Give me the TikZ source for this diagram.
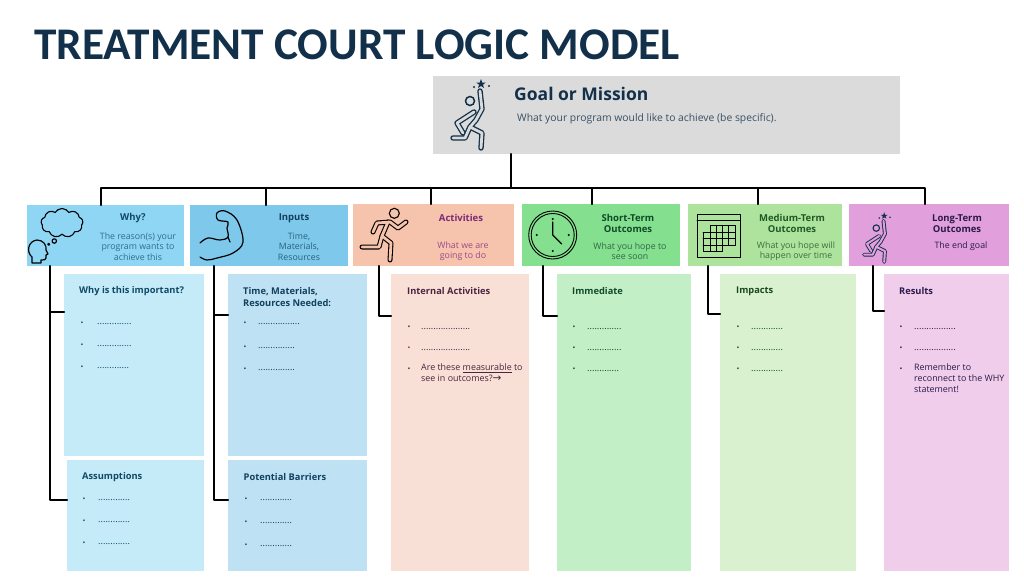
\documentclass[tikz,border=0pt]{standalone}
\usepackage{fontspec}
\setmainfont{Open Sans}
\newfontfamily\titlefont{Carlito}
\newfontfamily\symfont{DejaVu Sans}
\usetikzlibrary{shapes.symbols}
\definecolor{navy}{HTML}{12304A}
\definecolor{goalgray}{HTML}{DBDBDB}
\definecolor{whyhead}{HTML}{8FD6F5}
\definecolor{inputhead}{HTML}{7EC8EC}
\definecolor{acthead}{HTML}{F6C3AC}
\definecolor{shorthead}{HTML}{84E08E}
\definecolor{medhead}{HTML}{AEE39E}
\definecolor{longhead}{HTML}{E19FDB}
\definecolor{whypanel}{HTML}{C6EBF8}
\definecolor{inputpanel}{HTML}{BEE2F4}
\definecolor{actpanel}{HTML}{F9E0D6}
\definecolor{shortpanel}{HTML}{C2EFC5}
\definecolor{medpanel}{HTML}{D9F1CF}
\definecolor{longpanel}{HTML}{F0CEEB}
\definecolor{whyink}{HTML}{0E4A66}
\definecolor{whybody}{HTML}{2E6E8A}
\definecolor{inputink}{HTML}{12405C}
\definecolor{actink}{HTML}{7A2A78}
\definecolor{actbody}{HTML}{9A4A90}
\definecolor{actdark}{HTML}{4A2440}
\definecolor{shortink}{HTML}{0F4A2A}
\definecolor{medink}{HTML}{1F5A24}
\definecolor{medbody}{HTML}{3C6E3C}
\definecolor{longink}{HTML}{2A1A4A}
\tikzset{
  box/.style={anchor=north west, inner sep=0pt, outer sep=0pt},
  link/.style={line width=2.1pt, black, line cap=round, line join=round},
  headtitle/.style={align=center, inner sep=0pt, font=\fontsize{9.5}{11.7}\selectfont\bfseries},
  headbody/.style={align=center, inner sep=0pt, font=\fontsize{8.8}{10.4}\selectfont},
  paneltitle/.style={anchor=west, align=left, inner sep=0pt, font=\fontsize{9.3}{11.2}\selectfont\bfseries},
  dotmark/.style={anchor=center, inner sep=0pt, yshift=-1.5pt, font=\fontsize{7.5}{7.5}\selectfont},
  dots/.style={anchor=west, inner sep=0pt, yshift=-1.5pt, font=\fontsize{9.2}{9}\selectfont},
  itemtext/.style={anchor=north west, align=left, inner sep=0pt, font=\fontsize{8.9}{10.6}\selectfont},
  icon/.style={line width=1.2pt, black, line cap=round, line join=round},
  tube/.style={line width=#1, line cap=round, line join=round},
}
\newcommand{\jumperfig}[4]{
  \begin{scope}[shift={(#1,#2)}, scale=#3]
    \foreach \w/\c in {5.4*#3/navy, 2.8*#3/#4}{
      \draw[tube=\w pt, \c] (9,-21) -- (11,-3) -- (5,8) -- (-1,15) -- (11,21) -- (10,36);
      \draw[tube=\w pt, \c] (3,0) -- (-14,11) -- (-8,21);
      \draw[tube=\w pt, \c] (-1,15) -- (-6,26) -- (-18,26);
    }
    \draw[navy, line width=1.5*#3 pt] (-1,-11) circle (4.5);
    \fill[navy] (10,-33) -- (11.2,-29.5) -- (14.8,-29.5) -- (11.9,-27.3) -- (13,-24) -- (10,-26) -- (7,-24) -- (8.1,-27.3) -- (5.2,-29.5) -- (8.8,-29.5) -- cycle;
    \fill[navy] (3,-25) circle (1.2);
    \fill[navy] (18,-26) circle (1.2);
  \end{scope}
}
\begin{document}
\begin{tikzpicture}[x=1pt,y=-1pt]
\useasboundingbox (0,0) rectangle (1024,576);
\node[anchor=west, inner sep=0pt, text=navy, font=\fontsize{45.3}{45}\selectfont\titlefont\bfseries] (title) at (34,44.5) {TREATMENT COURT LOGIC MODEL};

\node[box, fill=goalgray, minimum width=467pt, minimum height=78pt] (goal) at (433,76) {};
\node[anchor=west, inner sep=0pt, text=navy, font=\fontsize{17.5}{18}\selectfont\bfseries] (goaltitle) at (514,94) {Goal or Mission};
\node[anchor=west, inner sep=0pt, text=navy!85, font=\fontsize{10.35}{12}\selectfont] (goaltext) at (517,118.5) {What your program would like to achieve (be specific).};
\jumperfig{471}{112}{1}{goalgray}

\node[box, fill=whyhead, minimum width=157pt, minimum height=61pt] (why) at (27,205) {};
\node[box, fill=inputhead, minimum width=158pt, minimum height=61pt] (inputs) at (190,205) {};
\node[box, fill=acthead, minimum width=161pt, minimum height=62pt] (act) at (353,204) {};
\node[box, fill=shorthead, minimum width=158pt, minimum height=62pt] (short) at (522,204) {};
\node[box, fill=medhead, minimum width=154pt, minimum height=62pt] (med) at (688,204) {};
\node[box, fill=longhead, minimum width=160pt, minimum height=62pt] (long) at (849,204) {};

\node[box, fill=whypanel, minimum width=140pt, minimum height=182pt] (whypanel) at (64,274) {};
\node[box, fill=whypanel, minimum width=137pt, minimum height=111pt] (assume) at (67,460) {};
\node[box, fill=inputpanel, minimum width=139pt, minimum height=182pt] (needs) at (228,274) {};
\node[box, fill=inputpanel, minimum width=139pt, minimum height=111pt] (barriers) at (228,460) {};
\node[box, fill=actpanel, minimum width=138pt, minimum height=297pt] (internal) at (391,274) {};
\node[box, fill=shortpanel, minimum width=134pt, minimum height=297pt] (immediate) at (557,274) {};
\node[box, fill=medpanel, minimum width=136pt, minimum height=297pt] (impacts) at (720,274) {};
\node[box, fill=longpanel, minimum width=125pt, minimum height=297pt] (results) at (884,274) {};

\coordinate (busmid) at (511,188);
\coordinate (busa) at (101,188);
\coordinate (busb) at (266,188);
\coordinate (busc) at (431,188);
\coordinate (busd) at (592,188);
\coordinate (buse) at (758,188);
\coordinate (busf) at (925,188);
\coordinate (spinea) at (50,188);
\coordinate (spineb) at (214,188);
\coordinate (spinec) at (379,188);
\coordinate (spined) at (543,188);
\coordinate (spinee) at (708,188);
\coordinate (spinef) at (873,188);
\coordinate (jointa) at (50,312);
\coordinate (jointb) at (214,315);
\coordinate (jointc) at (379,316);
\coordinate (jointd) at (543,316);
\coordinate (jointe) at (708,314);
\coordinate (jointf) at (873,311);
\coordinate (jointg) at (50,500);
\coordinate (jointh) at (214,500);

\draw[link] (busmid |- goal.south) -- (busmid);
\draw[link] (busa |- why.north) -- (busa) -- (busf) -- (busf |- long.north);
\draw[link] (busb) -- (busb |- inputs.north);
\draw[link] (busc) -- (busc |- act.north);
\draw[link] (busd) -- (busd |- short.north);
\draw[link] (buse) -- (buse |- med.north);

\draw[link] (spinea |- why.south) -- (jointg) -- (jointg -| assume.west);
\draw[link] (jointa) -- (jointa -| whypanel.west);
\draw[link] (spineb |- inputs.south) -- (jointh) -- (jointh -| barriers.west);
\draw[link] (jointb) -- (jointb -| needs.west);
\draw[link] (spinec |- act.south) -- (jointc) -- (jointc -| internal.west);
\draw[link] (spined |- short.south) -- (jointd) -- (jointd -| immediate.west);
\draw[link] (spinee |- med.south) -- (jointe) -- (jointe -| impacts.west);
\draw[link] (spinef |- long.south) -- (jointf) -- (jointf -| results.west);

\node[headtitle, text=whyink] (whytitle) at (133,218) {Why?};
\node[headbody, text=whybody] (whytext) at (138,246.5) {The reason(s) your\\program wants to\\achieve this};
\node[headtitle, text=inputink] (inputtitle) at (294,218) {Inputs};
\node[headbody, text=whybody!80!navy] (inputtext) at (299,246.5) {Time,\\Materials,\\Resources};
\node[headtitle, text=actink] (acttitle) at (461,218) {Activities};
\node[headbody, text=actbody] (acttext) at (463,251) {What we are\\going to do};
\node[headtitle, text=shortink] (shorttitle) at (628,223.5) {Short-Term\\Outcomes};
\node[headbody, text=shortink!85] (shorttext) at (630,251) {What you hope to\\see soon};
\node[headtitle, text=medink] (medtitle) at (792,223.5) {Medium-Term\\Outcomes};
\node[headbody, text=medbody] (medtext) at (796,251) {What you hope will\\happen over time};
\node[headtitle, text=longink] (longtitle) at (957,223.5) {Long-Term\\Outcomes};
\node[headbody, text=longink] (longtext) at (961,246) {The end goal};

\node[paneltitle, text=whyink] (whyhead) at (79,291.5) {Why is this important?};
\node[paneltitle, text=whyink] (assumehead) at (82,477.5) {Assumptions};
\node[paneltitle, text=inputink] (needshead) at (243,297) {Time, Materials,\\Resources Needed:};
\node[paneltitle, text=inputink] (barrierhead) at (243.5,477.5) {Potential Barriers};
\node[paneltitle, text=actdark] (internalhead) at (407,291.5) {Internal Activities};
\node[paneltitle, text=shortink] (immediatehead) at (572,291.5) {Immediate};
\node[paneltitle, text=medink!80!black] (impacthead) at (736,291.5) {Impacts};
\node[paneltitle, text=longink] (resulthead) at (899,291.5) {Results};

\node[dotmark, text=whyink] (whymarka) at (82,322) {•};
\node[dotmark, text=whyink] (whymarkb) at (82,344) {•};
\node[dotmark, text=whyink] (whymarkc) at (82,366) {•};
\node[dots, text=whyink] (whydotsa) at (97,323) {..............};
\node[dots, text=whyink] (whydotsb) at (97,345) {..............};
\node[dots, text=whyink] (whydotsc) at (97,367) {.............};

\node[dotmark, text=whyink] (assumemarka) at (84,498) {•};
\node[dotmark, text=whyink] (assumemarkb) at (84,520) {•};
\node[dotmark, text=whyink] (assumemarkc) at (84,542) {•};
\node[dots, text=whyink] (assumedotsa) at (98,499) {.............};
\node[dots, text=whyink] (assumedotsb) at (98,521) {.............};
\node[dots, text=whyink] (assumedotsc) at (98,543) {.............};

\node[dotmark, text=inputink] (needsmarka) at (245,322) {•};
\node[dotmark, text=inputink] (needsmarkb) at (245,346) {•};
\node[dotmark, text=inputink] (needsmarkc) at (245,368) {•};
\node[dots, text=inputink] (needsdotsa) at (258,323) {.................};
\node[dots, text=inputink] (needsdotsb) at (258,347) {...............};
\node[dots, text=inputink] (needsdotsc) at (258,369) {...............};

\node[dotmark, text=inputink] (barriermarka) at (246,498) {•};
\node[dotmark, text=inputink] (barriermarkb) at (246,521) {•};
\node[dotmark, text=inputink] (barriermarkc) at (246,544) {•};
\node[dots, text=inputink] (barrierdotsa) at (260,499) {.............};
\node[dots, text=inputink] (barrierdotsb) at (260,522) {.............};
\node[dots, text=inputink] (barrierdotsc) at (260,545) {.............};

\node[dotmark, text=actdark] (internalmarka) at (409,326) {•};
\node[dotmark, text=actink] (internalmarkb) at (409,347) {•};
\node[dotmark, text=actdark] (internalmarkc) at (409,368) {•};
\node[dots, text=actdark] (internaldotsa) at (421,328) {....................};
\node[dots, text=actdark] (internaldotsb) at (421,348.5) {....................};
\node[itemtext, text=actdark] (internaltext) at (421,364) {Are these \underline{measurable} to\\see in outcomes?{\symfont\fontsize{10.5}{10.5}\selectfont →}};

\node[dotmark, text=shortink] (immediatemarka) at (574,326) {•};
\node[dotmark, text=shortink] (immediatemarkb) at (574,347) {•};
\node[dotmark, text=shortink] (immediatemarkc) at (574,368) {•};
\node[dots, text=shortink] (immediatedotsa) at (587,328) {..............};
\node[dots, text=shortink] (immediatedotsb) at (587,348.5) {..............};
\node[dots, text=shortink] (immediatedotsc) at (587,369.5) {.............};

\node[dotmark, text=shortink] (impactmarka) at (738,326) {•};
\node[dotmark, text=shortink] (impactmarkb) at (738,347) {•};
\node[dotmark, text=shortink] (impactmarkc) at (738,368) {•};
\node[dots, text=shortink] (impactdotsa) at (751,328) {.............};
\node[dots, text=shortink] (impactdotsb) at (751,348.5) {.............};
\node[dots, text=shortink] (impactdotsc) at (751,369.5) {.............};

\node[dotmark, text=longink] (resultmarka) at (901,326) {•};
\node[dotmark, text=longink] (resultmarkb) at (901,347) {•};
\node[dotmark, text=longink] (resultmarkc) at (901,368) {•};
\node[dots, text=longink] (resultdotsa) at (914,328) {.................};
\node[dots, text=longink] (resultdotsb) at (914,348.5) {.................};
\node[itemtext, text=longink] (resulttext) at (914,364) {Remember to\\reconnect to the WHY\\statement!};

\node[draw=black, line width=1.1pt, cloud, cloud puffs=9, cloud puff arc=120, aspect=1.4, minimum width=42pt, minimum height=29pt, inner sep=0pt] (thought) at (62,223) {};
\draw[icon] (54.3,241) circle (2.2);
\draw[icon] (48.7,244.3) circle (1);
\draw[icon] (32,263) -- (32,257) .. controls (26,252) and (28,241) .. (37,240) .. controls (43,240) and (47,245) .. (46,250) -- (48,254) -- (46,255) -- (46,258) .. controls (46,260) and (44,260) .. (41,260) -- (41,263) -- cycle;

\draw[icon] plot[smooth, tension=.6] coordinates {(200,243) (208,238) (220,240) (228,237) (227,228) (228,222) (218,220) (217,213) (225,211) (237,220) (243,242) (233,253) (217,258) (207,260) (200,257)};
\draw[icon] (228,237) -- (230,242);

\draw[black, line width=1.1pt] (394.3,213.3) circle (5);
\foreach \w/\c in {5/black, 2.8/acthead}{
  \draw[tube=\w pt, \c] (406,222) -- (398,228) -- (390,222) -- (377,223) -- (373,232);
  \draw[tube=\w pt, \c] (362,247) -- (379,247) -- (382,236) -- (388,222);
  \draw[tube=\w pt, \c] (382,236) -- (391,243) -- (390,260);
}

\draw[icon, line width=.9pt] (552.7,235) circle (24);
\draw[icon, line width=.9pt] (552.7,235) circle (21.5);
\draw[icon] (552.7,222) -- (552.7,235) -- (561.7,244);
\foreach \a in {0,90,180,270}{
  \fill[black] (552.7,235) ++(\a:16) circle (1.1);
}

\draw[icon, line width=.9pt] (697,214) rectangle (740,257);
\draw[icon, line width=.9pt] (697,220) -- (740,220);
\draw[icon, line width=.8pt] (710,225.7) -- (735,225.7) -- (735,245) -- (722.3,245) -- (722.3,251) -- (703,251) -- (703,232) -- (710,232) -- cycle;
\draw[icon, line width=.8pt] (703,232) -- (735,232);
\draw[icon, line width=.8pt] (703,238.5) -- (735,238.5);
\draw[icon, line width=.8pt] (703,245) -- (722.3,245);
\draw[icon, line width=.8pt] (710,232) -- (710,251);
\draw[icon, line width=.8pt] (716,225.7) -- (716,251);
\draw[icon, line width=.8pt] (722.3,225.7) -- (722.3,245);
\draw[icon, line width=.8pt] (728.7,225.7) -- (728.7,245);

\jumperfig{877}{236}{.72}{longhead}
\end{tikzpicture}
\end{document}
